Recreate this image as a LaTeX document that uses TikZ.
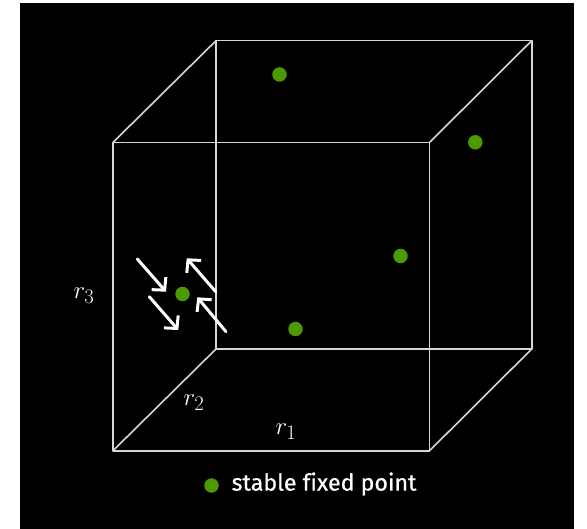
\documentclass[tikz,border=0pt]{standalone}
\usepackage{fontspec}
\newfontfamily\legendfont{Fira Sans}[FakeBold=0.6,Ligatures=NoCommon]
\usetikzlibrary{arrows.meta}
\definecolor{fpgreen}{RGB}{76,153,0}
\definecolor{edgegray}{RGB}{215,215,215}
\tikzset{
  edge/.style={draw=edgegray, line width=1.6pt, line join=round},
  fixpt/.style={circle, fill=fpgreen, inner sep=0pt, minimum size=14.5pt},
  flow/.style={white, line width=3pt, line cap=round, -{Straight Barb[length=9pt,width=19pt,line width=3pt]}},
  axlabel/.style={text=white, font=\fontsize{30}{32}\selectfont, inner sep=0pt}
}
\begin{document}
\begin{tikzpicture}[x=1pt,y=-1pt]
\useasboundingbox (0,0) rectangle (587,529);
\fill[white] (0,0) rectangle (587,529);
\fill[black] (19.5,3) rectangle (573.5,529);
% front face
\coordinate (f1) at (112.7,142.7);
\coordinate (f2) at (429.3,142.7);
\coordinate (f3) at (429.3,451);
\coordinate (f4) at (112.7,451);
% back face
\coordinate (b1) at (216,40.7);
\coordinate (b2) at (531.7,40.7);
\coordinate (b3) at (531.7,349);
\coordinate (b4) at (216,349);
\draw[edge] (f1) -- (f2) -- (f3) -- (f4) -- cycle;
\draw[edge] (b1) -- (b2) -- (b3) -- (b4) -- cycle;
\draw[edge] (f1) -- (b1);
\draw[edge] (f2) -- (b2);
\draw[edge] (f3) -- (b3);
\draw[edge] (f4) -- (b4);
% fixed points
\node[fixpt] (p1) at (279.5,74.5) {};
\node[fixpt] (p2) at (475.3,142.3) {};
\node[fixpt] (p3) at (400.5,256) {};
\node[fixpt] (p4) at (182.5,294) {};
\node[fixpt] (p5) at (295.5,329) {};
% flow arrows
\coordinate (a1s) at (137.3,259);  \coordinate (a1e) at (166,291.7);
\coordinate (a2s) at (149.3,296.7);\coordinate (a2e) at (178.3,330);
\coordinate (a3s) at (215.7,291.7);\coordinate (a3e) at (186.7,258.3);
\coordinate (a4s) at (226,331.7);  \coordinate (a4e) at (197.3,297.3);
\draw[flow] (a1s) -- (a1e);
\draw[flow] (a2s) -- (a2e);
\draw[flow] (a3s) -- (a3e);
\draw[flow] (a4s) -- (a4e);
% axis labels
\node[axlabel] (r3) at (84,296) {$r_3$};
\node[axlabel] (r2) at (194,403) {$r_2$};
\node[axlabel] (r1) at (286,432) {$r_1$};
% legend
\node[fixpt] (lg) at (211.5,485.5) {};
\node[text=white, anchor=west, inner sep=0pt, font=\legendfont\fontsize{23.2}{25}\selectfont] (lgt) at (231.5,484) {stable fixed point};
\end{tikzpicture}
\end{document}
